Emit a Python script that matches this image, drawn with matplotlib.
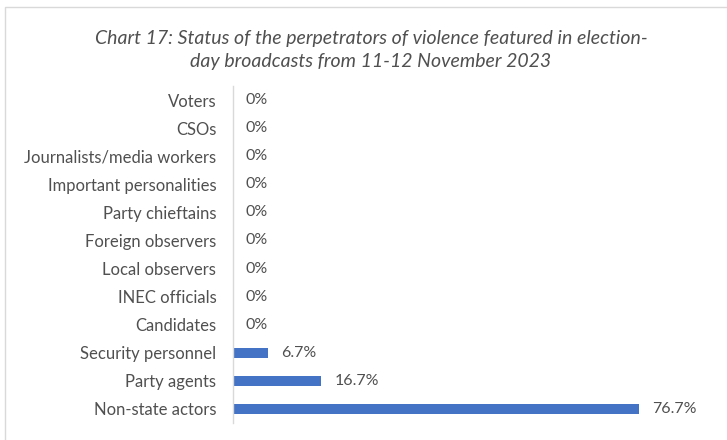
import matplotlib.pyplot as plt
from matplotlib.patches import Rectangle

categories = [
    "Voters",
    "CSOs",
    "Journalists/media workers",
    "Important personalities",
    "Party chieftains",
    "Foreign observers",
    "Local observers",
    "INEC officials",
    "Candidates",
    "Security personnel",
    "Party agents",
    "Non-state actors",
]
shares = [0, 0, 0, 0, 0, 0, 0, 0, 0, 6.7, 16.7, 76.7]

title = ("Chart 17: Status of the perpetrators of violence featured in election-\n"
         "day broadcasts from 11-12 November 2023")

barColor = "#4472C4"
textColor = "#505050"
plt.rcParams["font.family"] = ["Lato", "DejaVu Sans"]

fig = plt.figure(figsize=(7.27, 4.4), dpi=100)
ax = fig.add_axes([233 / 727, 1 - 423 / 440, (709 - 233) / 727, (423 - 86) / 440])

pos = list(range(len(categories)))
ax.barh(pos, shares, height=0.36, color=barColor)
ax.set_xlim(0, 90)
ax.set_ylim(len(categories) - 0.5, -0.5)

ax.set_yticks(pos)
ax.set_yticklabels(categories, fontsize=12, color=textColor)
ax.tick_params(axis="y", length=0, pad=12)
ax.set_xticks([])

for side in ["top", "right", "bottom"]:
    ax.spines[side].set_visible(False)
ax.spines["left"].set_color("#D9D9D9")
ax.spines["left"].set_linewidth(1.0)

for y, v in zip(pos, shares):
    label = "0%" if v == 0 else f"{v:.1f}%"
    ax.annotate(label, xy=(v, y), xytext=(13, 0), textcoords="offset pixels",
                va="center", ha="left", fontsize=11.5, color=textColor)

fig.text(371 / 727, 1 - 50 / 440, title, ha="center", va="center", fontsize=14,
         style="italic", color=textColor, linespacing=1.45)

# chart frame (top and left edges visible)
fig.patches.append(Rectangle((5 / 727, -0.1), 1.2, 1.1 - 7 / 440,
                             transform=fig.transFigure, fill=False,
                             edgecolor="#D9D9D9", linewidth=1.0))

fig.savefig("out.png", dpi=100, facecolor="white")
